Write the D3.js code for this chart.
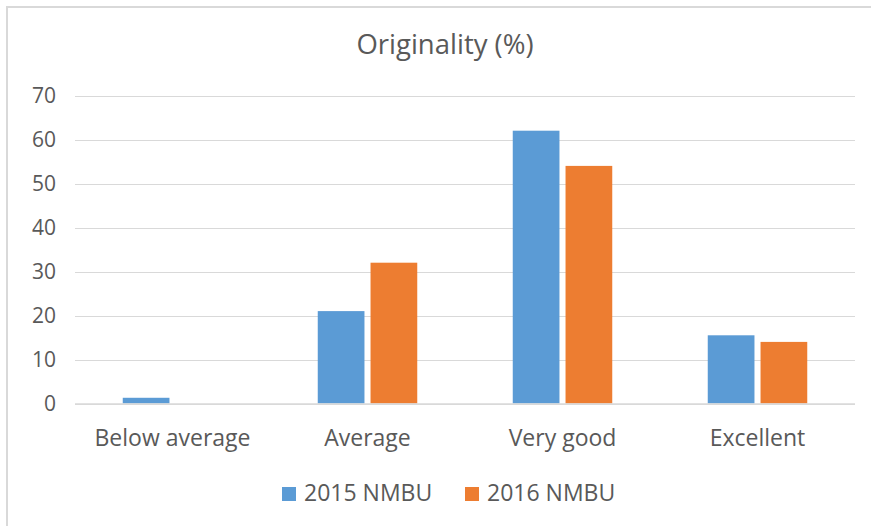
<!DOCTYPE html>
<html><head><meta charset="utf-8">
<script src="https://cdn.jsdelivr.net/npm/d3@7"></script>
<style>body{margin:0;background:#fff}svg{display:block}text{font-family:"Open Sans",sans-serif;fill:#595959}</style>
</head><body><svg id="c" width="871" height="526"></svg>
<script>
const categories = ["Below average","Average","Very good","Excellent"];
const seriesNames = ["2015 NMBU","2016 NMBU"];
const values2015 = [1.3, 21, 62, 15.5];
const values2016 = [0, 32, 54, 14];
const yTicks = [0,10,20,30,40,50,60,70];
const colors = ["#5B9BD5","#ED7D31"];
const title = "Originality (%)";

const svg = d3.select("#c");
svg.append("line").attr("x1",6).attr("x2",871).attr("y1",7).attr("y2",7).attr("stroke","#d9d9d9").attr("stroke-width",2);
svg.append("line").attr("x1",7).attr("x2",7).attr("y1",6).attr("y2",526).attr("stroke","#d9d9d9").attr("stroke-width",2);

const x = d3.scaleBand().domain(categories).range([75,855]).paddingInner(0).paddingOuter(0);
const y = d3.scaleLinear().domain([0,70]).range([403.5,95.5]);
const inner = d3.scaleBand().domain(seriesNames).range([0,99.5]).paddingInner(0.115);

svg.append("g").selectAll("line").data(yTicks).join("line")
  .attr("x1",75).attr("x2",855).attr("y1",d=>Math.round(y(d))+0.5).attr("y2",d=>Math.round(y(d))+0.5)
  .attr("stroke","#d9d9d9").attr("stroke-width",1);

const yAxis = d3.axisLeft(y).tickValues(yTicks).tickSize(0).tickPadding(0);
const ga = svg.append("g").attr("transform","translate(56,0)").call(yAxis);
ga.select(".domain").remove();
ga.selectAll("text").style("font-size","21px").style("font-family","'Open Sans',sans-serif").attr("fill","#595959");

const series = [values2015, values2016];
series.forEach((vals,si)=>{
  svg.append("g").selectAll("rect").data(categories).join("rect")
    .attr("x",c=>x(c)+x.bandwidth()/2-49.75+inner(seriesNames[si]))
    .attr("width",inner.bandwidth())
    .attr("y",(c,i)=>y(vals[i]))
    .attr("height",(c,i)=>y(0)-y(vals[i]))
    .attr("fill",colors[si]);
});

const xAxis = d3.axisBottom(x).tickSize(0).tickPadding(0);
const gx = svg.append("g").call(xAxis);
gx.select(".domain").remove();
gx.selectAll("text").attr("y",446).attr("dy",null).style("font-size","23px").style("font-family","'Open Sans',sans-serif").attr("fill","#595959");
svg.append("line").attr("x1",75).attr("x2",855).attr("y1",404).attr("y2",404).attr("stroke","#d9d9d9").attr("stroke-width",1.5);

svg.append("text").attr("x",445).attr("y",54).attr("text-anchor","middle").style("font-size","27.5px").text(title);

const legX = [282,465];
seriesNames.forEach((s,i)=>{
  svg.append("rect").attr("x",legX[i]).attr("y",487).attr("width",14).attr("height",14).attr("fill",colors[i]);
  svg.append("text").attr("x",legX[i]+22).attr("y",501).style("font-size","23px").text(s);
});
</script></body></html>
